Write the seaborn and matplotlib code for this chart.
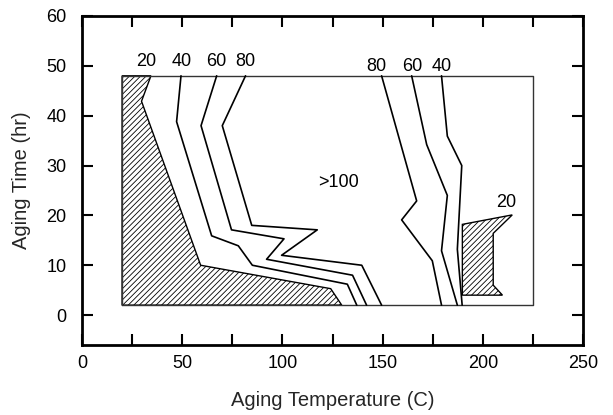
import matplotlib
matplotlib.use("Agg")
import matplotlib.pyplot as plt
import seaborn as sns
import pandas as pd

# Domain rectangle
rect_x = [20, 225, 225, 20, 20]
rect_y = [2, 2, 48, 48, 2]

# Hatched region (<20), left
h20L_x = [20, 34.4, 29.7, 59.2, 124.1, 129.6, 20, 20]
h20L_y = [48, 48, 42.9, 10.0, 5.3, 2.0, 2.0, 48]
# Hatched region (<20), right
h20R_x = [189.8, 214.7, 205.2, 205.2, 209.8, 189.8, 189.8]
h20R_y = [18.2, 20.1, 16.4, 6.0, 4.0, 4.0, 18.2]

# Left contour lines
c40L_x = [49.4, 47.2, 64.7, 78.0, 85.0, 132.4, 137.1]
c40L_y = [48, 38.8, 15.9, 13.9, 10.0, 6.2, 2.0]
c60L_x = [67.2, 59.4, 74.6, 100.8, 92.1, 135.0, 142.0]
c60L_y = [48, 38.0, 17.1, 15.3, 11.2, 8.0, 2.0]
c80L_x = [81.6, 70.0, 84.7, 117.4, 99.6, 139.6, 149.5]
c80L_y = [48, 38.0, 18.0, 17.1, 12.0, 10.0, 2.0]

# Right contour lines
c80R_x = [149.5, 167.0, 159.5, 174.8, 179.4]
c80R_y = [48, 22.9, 19.1, 10.9, 2.0]
c60R_x = [164.5, 172.0, 182.3, 179.4, 187.3]
c60R_y = [48, 34.2, 24.0, 12.9, 2.0]
c40R_x = [179.4, 182.3, 189.5, 187.3, 189.7]
c40R_y = [48, 35.9, 30.0, 13.2, 2.0]

# Labels
label_text = ["20", "40", "60", "80", "80", "60", "40", ">100", "20"]
label_x = [32.0, 49.8, 66.9, 81.7, 147.1, 164.9, 179.4, 127.8, 211.9]
label_y = [50.8, 50.8, 50.8, 50.8, 49.9, 49.9, 49.9, 26.6, 22.5]

sns.set_theme(style="white")
plt.rcParams['font.family'] = ['Liberation Sans', 'DejaVu Sans']
plt.rcParams['hatch.linewidth'] = 0.6

W, H = 613, 415
L, R, T, B = 82, 583, 16, 345
fig = plt.figure(figsize=(W / 100, H / 100), dpi=100)
ax = fig.add_axes([L / W, 1 - B / H, (R - L) / W, (B - T) / H])

def line(xs, ys, lw=1.0, color="black"):
    df = pd.DataFrame({"x": xs, "y": ys})
    sns.lineplot(data=df, x="x", y="y", sort=False, estimator=None,
                 color=color, linewidth=lw, ax=ax)

ax.fill(h20L_x, h20L_y, facecolor="white", edgecolor="black", hatch="//////", linewidth=1.0)
ax.fill(h20R_x, h20R_y, facecolor="white", edgecolor="black", hatch="//////", linewidth=1.0)

line(rect_x, rect_y, lw=1.0, color="#333333")
for xs, ys in [(c40L_x, c40L_y), (c60L_x, c60L_y), (c80L_x, c80L_y),
               (c80R_x, c80R_y), (c60R_x, c60R_y), (c40R_x, c40R_y)]:
    line(xs, ys, lw=1.2)

for t, x, y in zip(label_text, label_x, label_y):
    ax.text(x, y, t, ha="center", va="center", fontsize=13, color="black")

ax.set_xlim(0, 250)
ax.set_ylim(-6, 60)
ax.set_xticks([0, 50, 100, 150, 200, 250])
ax.set_xticks([25, 75, 125, 175, 225], minor=True)
ax.set_yticks([0, 10, 20, 30, 40, 50, 60])
ax.tick_params(axis="both", which="both", direction="in", length=8, width=1.5,
               top=True, right=True, bottom=True, left=True, labelsize=13,
               colors="black")
ax.tick_params(axis="x", which="both", pad=7)
ax.tick_params(axis="y", which="both", pad=11)
for s in ax.spines.values():
    s.set_visible(True)
    s.set_color("black")
    s.set_linewidth(2)
ax.set_xlabel("Aging Temperature (C)", fontsize=14.5)
ax.set_ylabel("Aging Time (hr)", fontsize=14.5)
ax.xaxis.label.set_va("center")
ax.yaxis.label.set_va("center")
ax.xaxis.set_label_coords(0.5, (B - 400) / (B - T))
ax.yaxis.set_label_coords((22 - L) / (R - L), 0.5)
ax.grid(False)

fig.savefig("out.png", dpi=100)
